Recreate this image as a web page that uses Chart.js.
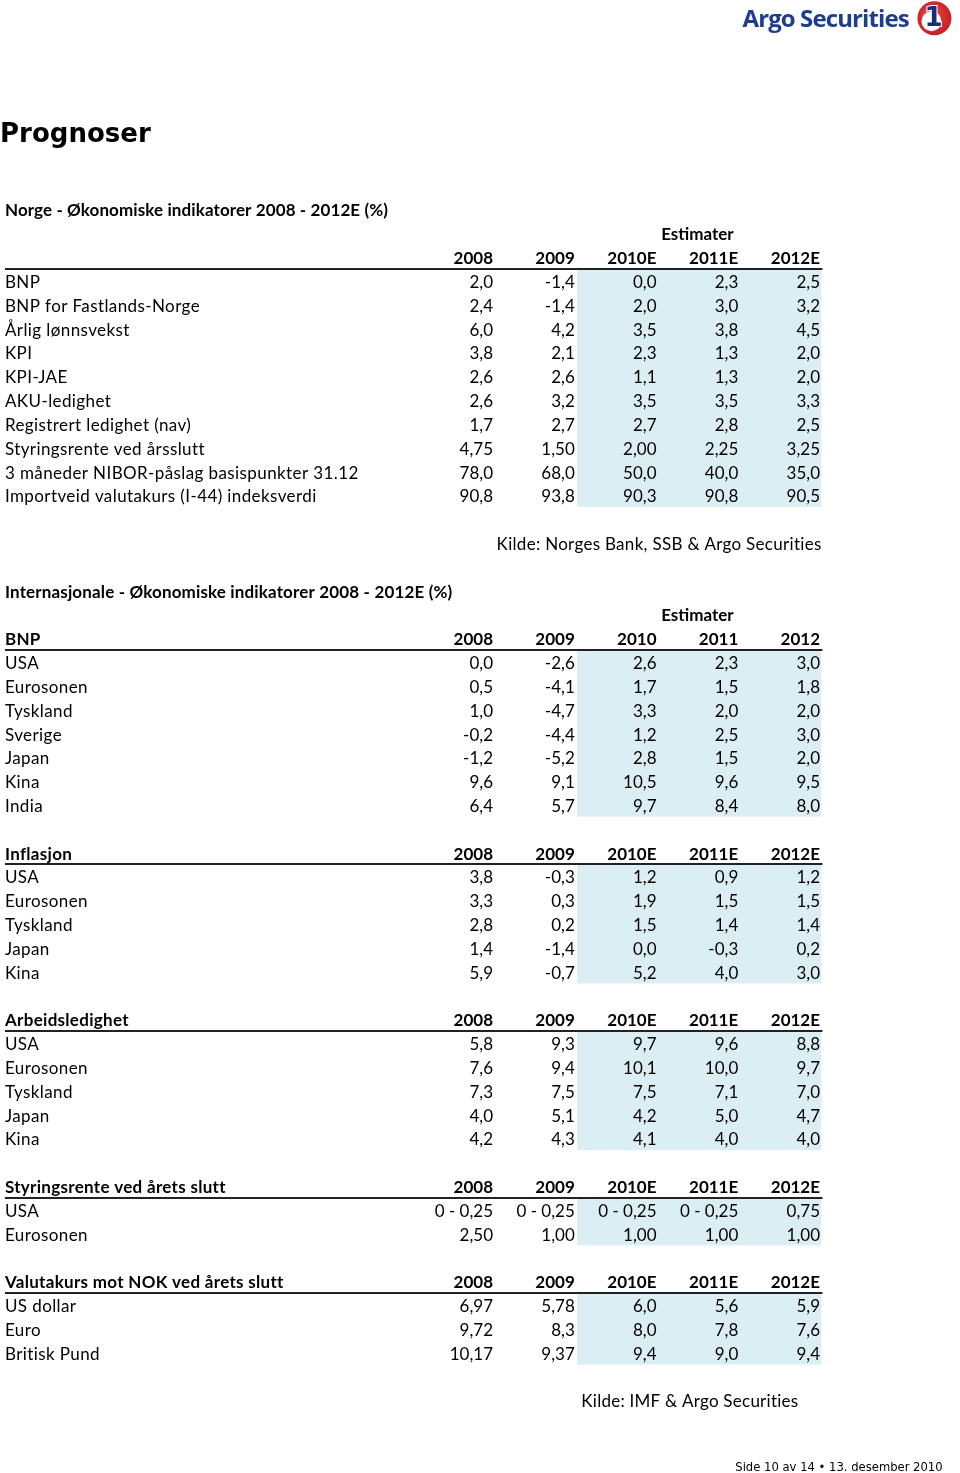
<!DOCTYPE html>
<html lang="no">
<head>
<meta charset="utf-8">
<title>Prognoser</title>
<script src="https://cdn.jsdelivr.net/npm/chart.js@4/dist/chart.umd.min.js"></script>
<style>
    html, body { margin: 0; padding: 0; background: #ffffff; }
    #page { display: block; width: 960px; height: 1473px; }
</style>
</head>
<body>
<canvas id="page" width="960" height="1473"></canvas>
<script>
// Norge - tabell
const norgeYears = ['2008', '2009', '2010E', '2011E', '2012E'];
const norgeLabels = [
    'BNP', 'BNP for Fastlands-Norge', 'Årlig lønnsvekst', 'KPI', 'KPI-JAE',
    'AKU-ledighet', 'Registrert ledighet (nav)', 'Styringsrente ved årsslutt',
    '3 måneder NIBOR-påslag basispunkter 31.12', 'Importveid valutakurs (I-44) indeksverdi'
];
const norgeValues = [
    ['2,0', '-1,4', '0,0', '2,3', '2,5'],
    ['2,4', '-1,4', '2,0', '3,0', '3,2'],
    ['6,0', '4,2', '3,5', '3,8', '4,5'],
    ['3,8', '2,1', '2,3', '1,3', '2,0'],
    ['2,6', '2,6', '1,1', '1,3', '2,0'],
    ['2,6', '3,2', '3,5', '3,5', '3,3'],
    ['1,7', '2,7', '2,7', '2,8', '2,5'],
    ['4,75', '1,50', '2,00', '2,25', '3,25'],
    ['78,0', '68,0', '50,0', '40,0', '35,0'],
    ['90,8', '93,8', '90,3', '90,8', '90,5']
];

// Internasjonale - tabeller
const bnpYears = ['2008', '2009', '2010', '2011', '2012'];
const bnpLabels = ['USA', 'Eurosonen', 'Tyskland', 'Sverige', 'Japan', 'Kina', 'India'];
const bnpValues = [
    ['0,0', '-2,6', '2,6', '2,3', '3,0'],
    ['0,5', '-4,1', '1,7', '1,5', '1,8'],
    ['1,0', '-4,7', '3,3', '2,0', '2,0'],
    ['-0,2', '-4,4', '1,2', '2,5', '3,0'],
    ['-1,2', '-5,2', '2,8', '1,5', '2,0'],
    ['9,6', '9,1', '10,5', '9,6', '9,5'],
    ['6,4', '5,7', '9,7', '8,4', '8,0']
];

const estYears = ['2008', '2009', '2010E', '2011E', '2012E'];

const inflasjonLabels = ['USA', 'Eurosonen', 'Tyskland', 'Japan', 'Kina'];
const inflasjonValues = [
    ['3,8', '-0,3', '1,2', '0,9', '1,2'],
    ['3,3', '0,3', '1,9', '1,5', '1,5'],
    ['2,8', '0,2', '1,5', '1,4', '1,4'],
    ['1,4', '-1,4', '0,0', '-0,3', '0,2'],
    ['5,9', '-0,7', '5,2', '4,0', '3,0']
];

const ledighetLabels = ['USA', 'Eurosonen', 'Tyskland', 'Japan', 'Kina'];
const ledighetValues = [
    ['5,8', '9,3', '9,7', '9,6', '8,8'],
    ['7,6', '9,4', '10,1', '10,0', '9,7'],
    ['7,3', '7,5', '7,5', '7,1', '7,0'],
    ['4,0', '5,1', '4,2', '5,0', '4,7'],
    ['4,2', '4,3', '4,1', '4,0', '4,0']
];

const renteLabels = ['USA', 'Eurosonen'];
const renteValues = [
    ['0 - 0,25', '0 - 0,25', '0 - 0,25', '0 - 0,25', '0,75'],
    ['2,50', '1,00', '1,00', '1,00', '1,00']
];

const valutaLabels = ['US dollar', 'Euro', 'Britisk Pund'];
const valutaValues = [
    ['6,97', '5,78', '6,0', '5,6', '5,9'],
    ['9,72', '8,3', '8,0', '7,8', '7,6'],
    ['10,17', '9,37', '9,4', '9,0', '9,4']
];

// Tabellblokker: overskrift, årstall, rader og startrad
const blocks = [
    { title: '', years: norgeYears, labels: norgeLabels, values: norgeValues, row: 2 },
    { title: 'BNP', years: bnpYears, labels: bnpLabels, values: bnpValues, row: 18 },
    { title: 'Inflasjon', years: estYears, labels: inflasjonLabels, values: inflasjonValues, row: 27 },
    { title: 'Arbeidsledighet', years: estYears, labels: ledighetLabels, values: ledighetValues, row: 34 },
    { title: 'Styringsrente ved årets slutt', years: estYears, labels: renteLabels, values: renteValues, row: 41 },
    { title: 'Valutakurs mot NOK ved årets slutt', years: estYears, labels: valutaLabels, values: valutaValues, row: 45 }
];

const FONT = 'Lato, "Open Sans", sans-serif';
const LABEL_COL = -4.97;

// Bygg alle tekstceller som punkter (kolonne, rad)
function buildCells() {
    const cells = [];
    const add = (x, y, t, opts) => cells.push(Object.assign({ x, y, t, bold: false, align: 'right', size: 17, spacing: 0 }, opts));

    add(LABEL_COL, 0, 'Norge - Økonomiske indikatorer 2008 - 2012E (%)', { bold: true, align: 'left', spacing: 0.1 });
    add(3.5, 1, 'Estimater', { bold: true, align: 'center' });
    add(5.02, 14, 'Kilde: Norges Bank, SSB & Argo Securities', { spacing: 0.3 });
    add(LABEL_COL, 16, 'Internasjonale - Økonomiske indikatorer 2008 - 2012E (%)', { bold: true, align: 'left', spacing: 0.15 });
    add(3.5, 17, 'Estimater', { bold: true, align: 'center' });
    add(2.08, 50, 'Kilde: IMF & Argo Securities', { align: 'left', spacing: 0.25 });

    blocks.forEach(b => {
        if (b.title) add(LABEL_COL, b.row, b.title, { bold: true, align: 'left', spacing: 0.3 });
        b.years.forEach((yr, i) => add(i + 1, b.row, yr, { bold: true }));
        b.labels.forEach((lab, r) => {
            add(LABEL_COL, b.row + 1 + r, lab, { align: 'left', spacing: 0.4 });
            b.values[r].forEach((v, i) => add(i + 1, b.row + 1 + r, v, {}));
        });
    });
    return cells;
}

// Bakgrunn, linjer og tekst tegnes via skalaene
const tablePlugin = {
    id: 'tablePlugin',
    beforeDatasetsDraw(chart) {
        const { ctx, scales: { x, y } } = chart;
        ctx.save();
        blocks.forEach(b => {
            const first = b.row + 1, last = b.row + b.labels.length;
            // blå skygge for estimater
            ctx.fillStyle = '#dbeef4';
            const x0 = x.getPixelForValue(2.03), x1 = x.getPixelForValue(5.015);
            const y0 = y.getPixelForValue(first - 0.5), y1 = y.getPixelForValue(last + 0.47);
            ctx.fillRect(x0, y0, x1 - x0, y1 - y0);
            // linje under overskrift
            ctx.strokeStyle = '#222';
            ctx.lineWidth = 2;
            const ly = Math.round(y.getPixelForValue(b.row + 0.47));
            ctx.beginPath();
            ctx.moveTo(x.getPixelForValue(LABEL_COL), ly);
            ctx.lineTo(x.getPixelForValue(5.03), ly);
            ctx.stroke();
        });
        ctx.restore();
    },
    afterDatasetsDraw(chart) {
        const { ctx, scales: { x, y } } = chart;
        const meta = chart.getDatasetMeta(0);
        const data = chart.data.datasets[0].data;
        ctx.save();
        ctx.fillStyle = '#000';
        ctx.textBaseline = 'middle';
        meta.data.forEach((pt, i) => {
            const c = data[i];
            ctx.font = (c.bold ? 'bold ' : '') + c.size + 'px ' + FONT;
            ctx.letterSpacing = c.spacing + 'px';
            ctx.textAlign = c.align;
            ctx.fillText(c.t, pt.x, pt.y + 1);
        });
        ctx.letterSpacing = '0px';

        // Tittel
        ctx.textAlign = 'left';
        ctx.font = 'bold 26px "DejaVu Sans", Verdana, sans-serif';
        ctx.fillText('Prognoser', x.getPixelForValue(-5.03), y.getPixelForValue(-3.15));

        // Bunntekst
        ctx.textAlign = 'right';
        ctx.font = '11.6px "DejaVu Sans", Verdana, sans-serif';
        ctx.fillText('Side 10 av 14 \u2022 13. desember 2010', x.getPixelForValue(6.5), y.getPixelForValue(52.8));

        // Logo
        const ly = y.getPixelForValue(-7.95);
        ctx.fillStyle = '#1f3d8f';
        ctx.font = 'bold 24px "Open Sans", sans-serif';
        ctx.letterSpacing = '-0.9px';
        ctx.fillText('Argo Securities', x.getPixelForValue(6.085), ly);
        ctx.letterSpacing = '0px';
        const cx = x.getPixelForValue(6.4), cy = y.getPixelForValue(-8.05);
        const grad = ctx.createRadialGradient(cx - 5, cy - 6, 2, cx, cy, 18);
        grad.addColorStop(0, '#f0484a');
        grad.addColorStop(1, '#c41e22');
        ctx.fillStyle = grad;
        ctx.beginPath();
        ctx.arc(cx, cy, 17, 0, Math.PI * 2);
        ctx.fill();
        ctx.fillStyle = '#fff';
        ctx.beginPath();
        ctx.arc(cx - 3, cy + 3, 10, 0, Math.PI * 2);
        ctx.fill();
        ctx.textAlign = 'center';
        ctx.font = 'bold 26px "DejaVu Sans", sans-serif';
        ctx.lineWidth = 2;
        ctx.strokeStyle = '#fff';
        ctx.strokeText('1', cx - 1, cy + 1);
        ctx.fillStyle = '#1a2f7a';
        ctx.fillText('1', cx - 1, cy + 1);
        ctx.restore();
    }
};

function initPage() {
    const ctx = document.getElementById('page').getContext('2d');
    new Chart(ctx, {
        type: 'scatter',
        data: {
            datasets: [{
                data: buildCells(),
                pointRadius: 0,
                pointHoverRadius: 0
            }]
        },
        options: {
            responsive: false,
            animation: false,
            events: [],
            layout: { padding: 0 },
            plugins: {
                legend: { display: false },
                tooltip: { enabled: false }
            },
            scales: {
                x: { type: 'linear', display: false, min: -411.25 / 81.75, max: (960 - 411.25) / 81.75 },
                y: { type: 'linear', display: false, reverse: true, min: -210 / 23.82, max: (1473 - 210) / 23.82 }
            }
        },
        plugins: [tablePlugin]
    });
}

document.addEventListener('DOMContentLoaded', () => {
    initPage();
});
</script>
</body>
</html>
